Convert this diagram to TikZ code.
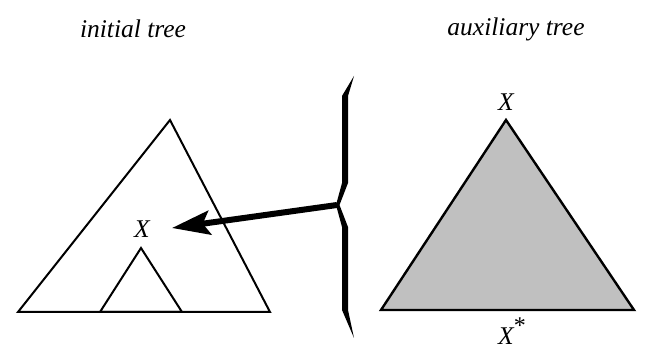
\documentclass[tikz,border=0pt]{standalone}
\usepackage{fontspec}
\setmainfont{Liberation Serif}
\usetikzlibrary{arrows.meta}
\definecolor{treegray}{RGB}{192,192,192}
\begin{document}
\begin{tikzpicture}[x=1pt,y=-1pt,
  lbl/.style={font=\fontsize{25.5}{30}\selectfont\itshape, inner sep=0pt},
  tri/.style={draw=black, line width=2pt, line join=miter}]
\useasboundingbox (0,0) rectangle (646,352);
% titles
\node[lbl] (t1) at (133,29) {initial tree};
\node[lbl] (t2) at (516,29) {auxiliary tree};
% initial tree
\draw[tri] (170,120) -- (270,312) -- (18,312) -- cycle;
\draw[tri] (141,248) -- (182,312) -- (100,312) -- cycle;
\node[lbl] (xi) at (142,229) {X};
% auxiliary tree
\draw[tri, fill=treegray, line width=2.4pt] (506,120) -- (634,310) -- (381,310) -- cycle;
\node[lbl] (xa) at (506,102) {X};
\node[lbl, anchor=base west] (xs) at (498,345) {X\raisebox{11pt}{\fontsize{24}{26}\selectfont\upshape *}};
% brace
\fill[black] (354,76) -- (342,96) -- (342,183) -- (336,205) -- (342,227) -- (342,310) -- (354,338)
  -- (348,310) -- (348,227) -- (339.5,205) -- (348,183) -- (348,96) -- cycle;
\coordinate (bt) at (337,205);
\coordinate (xt) at (172,228);
\draw[line width=6pt, -{Stealth[length=38pt,width=24pt,inset=7pt]}] (bt) -- (xt);
\end{tikzpicture}
\end{document}
